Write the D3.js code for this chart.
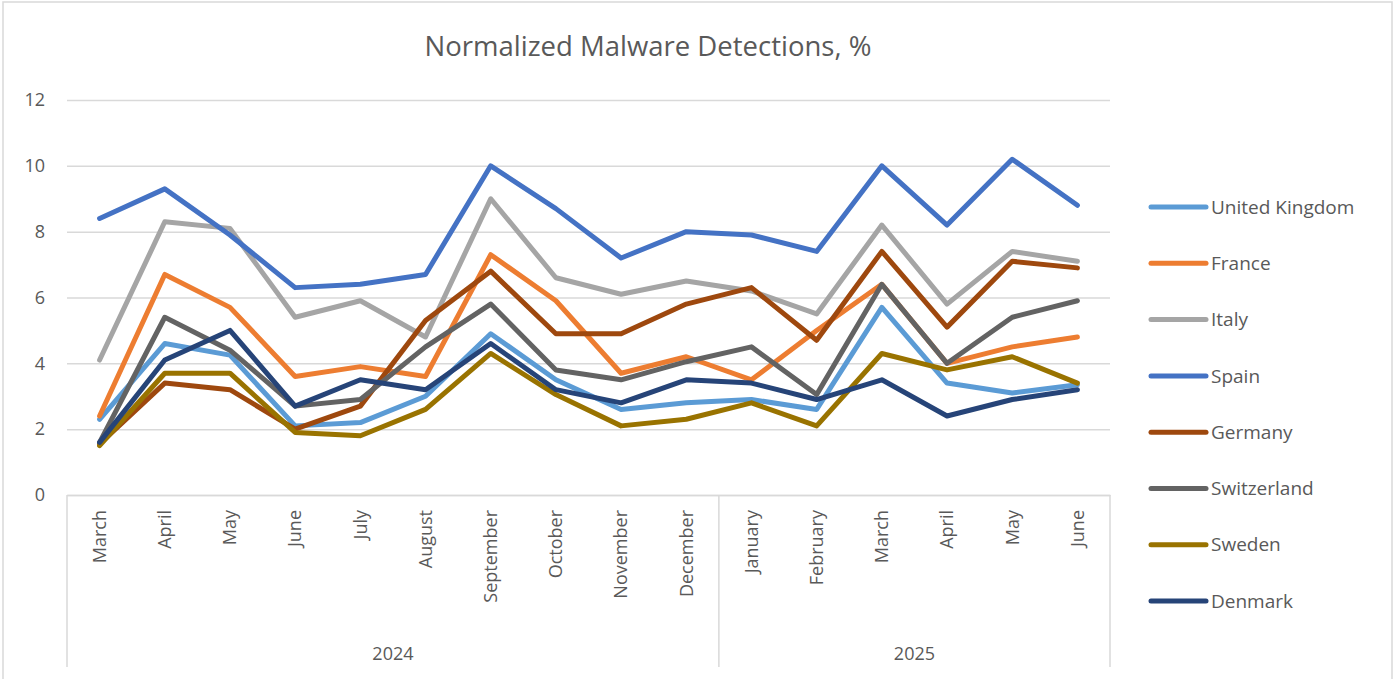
<!DOCTYPE html>
<html>
<head>
<meta charset="utf-8">
<script src="https://cdn.jsdelivr.net/npm/d3@7"></script>
<style>
  body { margin: 0; background: #fff; }
  text { font-family: "Open Sans", "Noto Sans", sans-serif; fill: #595959; }
</style>
</head>
<body>
<div id="chart"></div>
<script>
// months on the x axis, grouped by year
var months = ["March","April","May","June","July","August","September","October","November","December",
              "January","February","March","April","May","June"];
var years = [{ label: "2024", count: 10 }, { label: "2025", count: 6 }];
var yTicks = [0, 2, 4, 6, 8, 10, 12];

var countries = ["United Kingdom","France","Italy","Spain","Germany","Switzerland","Sweden","Denmark"];
var colors = ["#5B9BD5","#ED7D31","#A5A5A5","#4472C4","#9E480E","#636363","#997300","#264478"];

var ukValues          = [2.3, 4.6, 4.25, 2.1, 2.2, 3.0, 4.9, 3.5, 2.6, 2.8, 2.9, 2.6, 5.7, 3.4, 3.1, 3.35];
var franceValues      = [2.4, 6.7, 5.7, 3.6, 3.9, 3.6, 7.3, 5.9, 3.7, 4.2, 3.5, 5.0, 6.4, 4.0, 4.5, 4.8];
var italyValues       = [4.1, 8.3, 8.1, 5.4, 5.9, 4.8, 9.0, 6.6, 6.1, 6.5, 6.2, 5.5, 8.2, 5.8, 7.4, 7.1];
var spainValues       = [8.4, 9.3, 7.9, 6.3, 6.4, 6.7, 10.0, 8.7, 7.2, 8.0, 7.9, 7.4, 10.0, 8.2, 10.2, 8.8];
var germanyValues     = [1.55, 3.4, 3.2, 2.0, 2.7, 5.3, 6.8, 4.9, 4.9, 5.8, 6.3, 4.7, 7.4, 5.1, 7.1, 6.9];
var switzerlandValues = [1.6, 5.4, 4.4, 2.7, 2.9, 4.5, 5.8, 3.8, 3.5, 4.05, 4.5, 3.05, 6.4, 4.0, 5.4, 5.9];
var swedenValues      = [1.5, 3.7, 3.7, 1.9, 1.8, 2.6, 4.3, 3.05, 2.1, 2.3, 2.8, 2.1, 4.3, 3.8, 4.2, 3.4];
var denmarkValues     = [1.6, 4.1, 5.0, 2.7, 3.5, 3.2, 4.6, 3.2, 2.8, 3.5, 3.4, 2.9, 3.5, 2.4, 2.9, 3.2];

var series = [ukValues, franceValues, italyValues, spainValues, germanyValues,
              switzerlandValues, swedenValues, denmarkValues];

var width = 1394, height = 679;
var plotLeft = 67, plotRight = 1110, plotTop = 100, plotBottom = 495;

var svg = d3.select("#chart").append("svg")
    .attr("width", width)
    .attr("height", height);

// chart frame
svg.append("rect")
    .attr("x", 3).attr("y", 2)
    .attr("width", 1389).attr("height", 690)
    .attr("fill", "none")
    .attr("stroke", "#d9d9d9")
    .attr("stroke-width", 1.5);

svg.append("text")
    .attr("x", 648).attr("y", 56)
    .attr("text-anchor", "middle")
    .style("font-size", "27.5px")
    .text("Normalized Malware Detections, %");

var xScale = d3.scaleBand().domain(d3.range(months.length)).range([plotLeft, plotRight]).padding(0);
var yScale = d3.scaleLinear().domain([0, 12]).range([plotBottom, plotTop]);

// gridlines + y labels
var y_axis = d3.axisLeft(yScale).tickValues(yTicks).tickSize(-(plotRight - plotLeft)).tickPadding(22);
var yg = svg.append("g")
    .attr("class", "y axis")
    .attr("transform", "translate(" + plotLeft + ",0)")
    .call(y_axis);
yg.select(".domain").remove();
yg.selectAll(".tick line").attr("stroke", "#d9d9d9").attr("stroke-width", 1.5);
yg.selectAll(".tick text").style("font-size", "18px").attr("fill", "#595959");

// x axis with month labels
var x_axis = d3.axisBottom(xScale).tickSize(0).tickFormat(function(i) { return months[i]; });
var xg = svg.append("g")
    .attr("class", "x axis")
    .attr("transform", "translate(0," + plotBottom + ")")
    .call(x_axis);
xg.select(".domain").attr("stroke", "#d9d9d9").attr("stroke-width", 1.5);
xg.selectAll(".tick text")
    .style("font-size", "18px")
    .attr("fill", "#595959")
    .attr("transform", "rotate(-90)")
    .attr("text-anchor", "end")
    .attr("x", -15)
    .attr("y", 0)
    .attr("dy", "0.35em");

// year grouping
var start = 0;
var edges = [plotLeft];
years.forEach(function(yr) {
    var x0 = xScale(start), x1 = xScale(start + yr.count - 1) + xScale.bandwidth();
    svg.append("text")
        .attr("x", (x0 + x1) / 2).attr("y", 660)
        .attr("text-anchor", "middle")
        .style("font-size", "18px")
        .text(yr.label);
    edges.push(x1);
    start += yr.count;
});
svg.selectAll(".yearline")
    .data(edges)
    .enter().append("line")
    .attr("class", "yearline")
    .attr("x1", function(d) { return d; }).attr("x2", function(d) { return d; })
    .attr("y1", plotBottom).attr("y2", 667)
    .attr("stroke", "#d9d9d9")
    .attr("stroke-width", 1.5);

// lines
var line = d3.line()
    .x(function(d, i) { return xScale(i) + xScale.bandwidth() / 2; })
    .y(function(d) { return yScale(d); });

svg.selectAll(".series")
    .data(series)
    .enter().append("path")
    .attr("class", "series")
    .attr("d", line)
    .attr("fill", "none")
    .attr("stroke", function(d, i) { return colors[i]; })
    .attr("stroke-width", 5)
    .attr("stroke-linejoin", "round")
    .attr("stroke-linecap", "round");

// legend
var legend = svg.selectAll(".legend")
    .data(countries)
    .enter().append("g")
    .attr("class", "legend")
    .attr("transform", function(d, i) { return "translate(1151," + (207 + i * 56.3) + ")"; });
legend.append("line")
    .attr("x1", 0).attr("x2", 55)
    .attr("stroke", function(d, i) { return colors[i]; })
    .attr("stroke-width", 5)
    .attr("stroke-linecap", "round");
legend.append("text")
    .attr("x", 60)
    .attr("dy", "0.35em")
    .style("font-size", "19px")
    .text(function(d) { return d; });
</script>
</body>
</html>
